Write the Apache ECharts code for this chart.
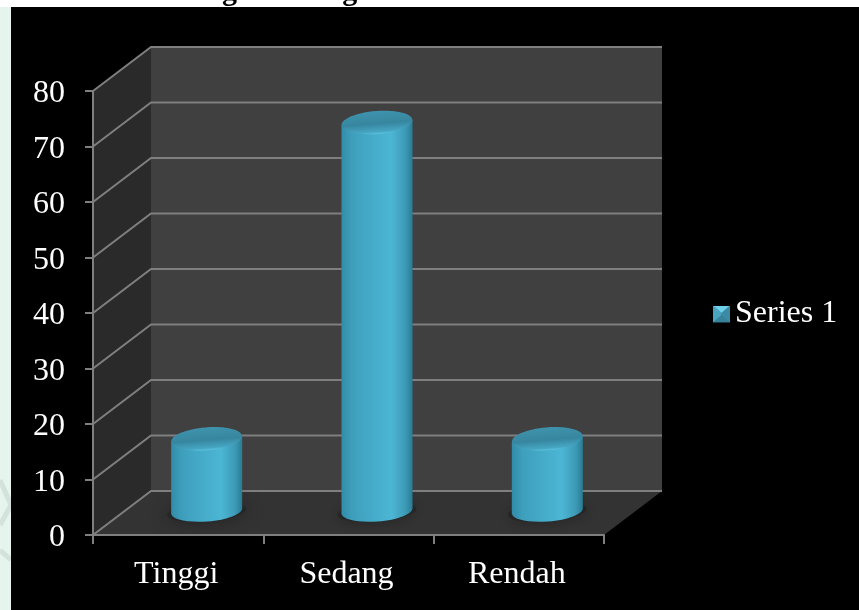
<!DOCTYPE html>
<html><head><meta charset="utf-8">
<style>html,body{margin:0;padding:0;background:#fff}#c{width:859px;height:610px}</style>
<script src="https://cdn.jsdelivr.net/npm/echarts@6/dist/echarts.min.js"></script>
</head><body><div id="c"></div>
<script>
const categories = ['Tinggi', 'Sedang', 'Rendah'];
const seriesName = 'Series 1';
const values = [13, 70, 13];
const gridTicks = [0, 10, 20, 30, 40, 50, 60, 70, 80];
const titleText = 'Diagram Tingkat Kontribusi Kohort Kelas';

const FONT = '"Liberation Serif", "Times New Roman", serif';
const DEPTH_X = 58, DEPTH_Y = -44;
const BAR_DX = 28.5, BAR_DY = -24, RX = 35.5, RY = 11.5, TILT = 0.08;

const legendIcon = 'image://data:image/svg+xml;utf8,' + encodeURIComponent(
 '<svg xmlns="http://www.w3.org/2000/svg" width="18" height="18">' +
 '<rect width="18" height="18" fill="#3f93ad"/>' +
 '<polygon points="0,0 18,0 9,8" fill="#6fd0ea"/>' +
 '<polygon points="0,0 9,8 9,10 0,18" fill="#4aa3bf"/>' +
 '<polygon points="18,0 9,8 9,10 18,18" fill="#3c8ba5"/>' +
 '<polygon points="0,18 9,10 18,18" fill="#37829b"/></svg>');

function renderWalls(params, api) {
  const band = api.size([1, 0])[0];
  const l = api.coord([0, 0])[0] - band / 2;
  const r = api.coord([2, 0])[0] + band / 2;
  const b = api.coord([0, 0])[1];
  const t = api.coord([0, 80])[1];
  const dx = DEPTH_X, dy = DEPTH_Y;
  const children = [
    {type:'polygon', shape:{points:[[l+dx,t+dy],[r+dx,t+dy],[r+dx,b+dy],[l+dx,b+dy]]}, style:{fill:'#404040'}},
    {type:'polygon', shape:{points:[[l,t],[l+dx,t+dy],[l+dx,b+dy],[l,b]]}, style:{fill:'#2a2a2a'}},
    {type:'polygon', shape:{points:[[l,b],[l+dx,b+dy],[r+dx,b+dy],[r,b]]}, style:{fill:'#333333'}}
  ];
  gridTicks.forEach(v => {
    const y = api.coord([0, v])[1];
    children.push({type:'polyline', shape:{points:[[l,y],[l+dx,y+dy],[r+dx,y+dy]]},
      style:{stroke:'#7f7f7f', lineWidth:2, fill:null}});
  });
  return {type:'group', children};
}

const bodyStops = [
  {offset:0, color:'#318ca8'},{offset:0.15, color:'#3e9fbc'},{offset:0.7, color:'#4cb6d5'},
  {offset:0.9, color:'#3c9ab6'},{offset:1, color:'#2b7a92'}];

function renderCylinder(params, api) {
  const idx = api.value(0), val = api.value(1);
  const base = api.coord([idx, 0]);
  const top = api.coord([idx, val]);
  const cx = base[0] + BAR_DX, by = base[1] + BAR_DY, ty = top[1] + BAR_DY;
  const s = RX * Math.sin(TILT);
  const grad = {type:'linear', x:0, y:0, x2:1, y2:0, colorStops:bodyStops};
  const capGrad = {type:'linear', x:0, y:0, x2:0, y2:1, colorStops:[
    {offset:0, color:'#3f93ad'},{offset:0.55, color:'#37869f'},{offset:0.9, color:'#46a6c3'},{offset:1, color:'#5cc3df'}]};
  const ell = (cy, rx, ry, style) => ({type:'ellipse', x:cx, y:cy, rotation:TILT,
    shape:{cx:0, cy:0, rx, ry}, style});
  return {type:'group', children:[
    ell(by+1, RX+4, RY-2, {fill:'#262626', shadowBlur:16, shadowColor:'#222222'}),
    ell(by, RX, RY-1, {fill:grad}),
    {type:'polygon', shape:{points:[[cx-RX,ty+s],[cx+RX,ty-s],[cx+RX,by-s],[cx-RX,by+s]]}, style:{fill:grad}},
    ell(ty, RX, RY, {fill:capGrad})
  ]};
}

const chart = echarts.init(document.getElementById('c'), null, {renderer:'canvas'});
chart.setOption({
  animation:false,
  backgroundColor:'#ffffff',
  textStyle:{fontFamily:FONT},
  title:{text:titleText, left:172, top:-28, z:0,
    textStyle:{fontFamily:FONT, fontWeight:'bold', fontSize:30, color:'#000'}},
  graphic:[
    {type:'rect', z:0, left:0, top:7, shape:{width:11, height:603}, style:{fill:'#e6f4ee'}},
    {type:'polyline', z:0, shape:{points:[[0,480],[11,505],[0,525]]}, style:{stroke:'#d3e2db', lineWidth:5, fill:null}},
    {type:'polyline', z:0, shape:{points:[[0,550],[11,560]]}, style:{stroke:'#d3e2db', lineWidth:5, fill:null}},
    {type:'rect', z:1, left:11, top:7, shape:{width:848, height:603}, style:{fill:'#000000'}}
  ],
  legend:{show:true, left:708, top:293, orient:'vertical', z:8, itemWidth:17, itemHeight:17, itemGap:0,
    data:[{name:seriesName, icon:legendIcon}],
    textStyle:{color:'#fff', fontFamily:FONT, fontSize:32, padding:[0,0,0,0]}},
  grid:{left:93, top:91, width:511, height:444},
  xAxis:{type:'category', data:categories, z:6,
    axisLine:{lineStyle:{color:'#7f7f7f', width:2}},
    axisTick:{show:true, alignWithLabel:false, length:9, lineStyle:{color:'#7f7f7f', width:2}},
    axisLabel:{color:'#fff', fontFamily:FONT, fontSize:32, margin:24, padding:[0,4,0,0]},
    splitLine:{show:false}},
  yAxis:{type:'value', min:0, max:80, interval:10, z:6,
    axisLine:{show:true, lineStyle:{color:'#7f7f7f', width:2}},
    axisTick:{show:true, length:8, lineStyle:{color:'#7f7f7f', width:2}},
    axisLabel:{color:'#fff', fontFamily:FONT, fontSize:32, margin:28, formatter:'{a|{value}}',
      rich:{a:{color:'#fff', fontFamily:FONT, fontSize:32, padding:[6,0,0,0]}}},
    splitLine:{show:false}},
  series:[
    {type:'custom', name:'walls', z:3, silent:true, data:[[0,0]], renderItem:renderWalls, clip:false, encode:{x:0,y:1}},
    {type:'custom', name:seriesName, z:4, renderItem:renderCylinder, clip:false, encode:{x:0,y:1},
      itemStyle:{color:'#3f93ad'},
      data:values.map((v,i)=>[i,v])}
  ]
});
</script></body></html>
